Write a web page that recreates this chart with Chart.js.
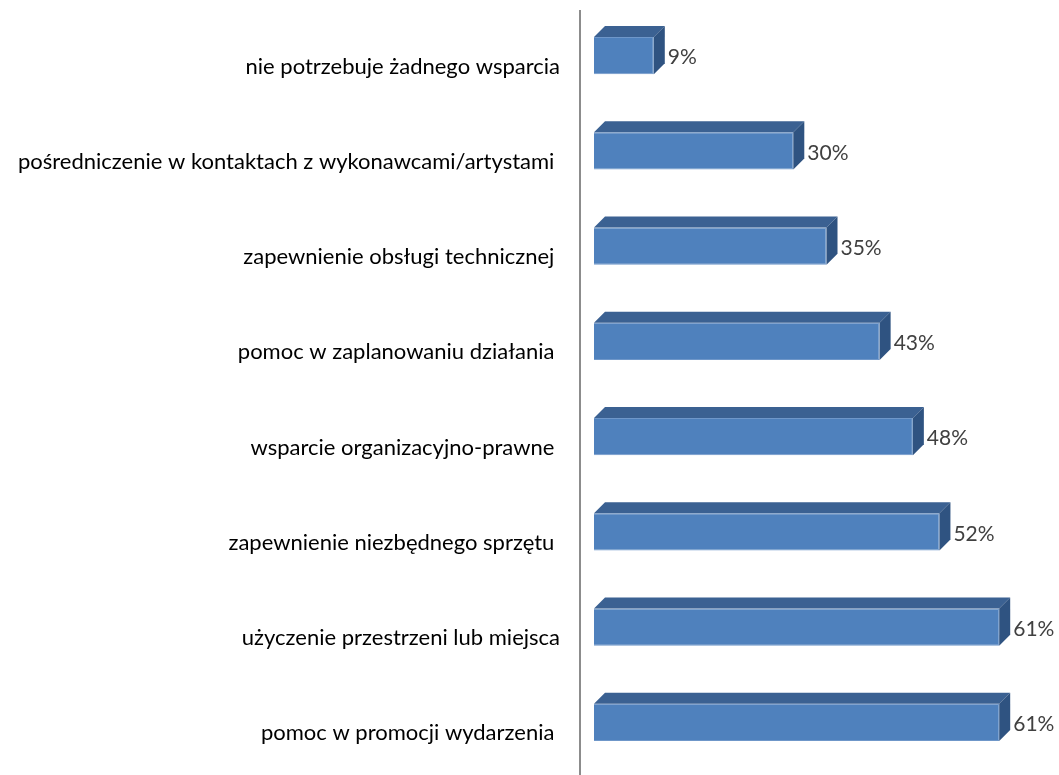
<!DOCTYPE html>
<html>
<head>
<meta charset="utf-8">
<script src="https://cdn.jsdelivr.net/npm/chart.js@4.4.0/dist/chart.umd.min.js"></script>
<style>
  html, body { margin: 0; padding: 0; background: #fff; }
  #wrap { width: 1059px; height: 775px; position: relative; }
</style>
</head>
<body>
<div id="wrap"><canvas id="chart"></canvas></div>
<script>
// data
const categories = [
  "nie potrzebuje żadnego wsparcia",
  "pośredniczenie w kontaktach z wykonawcami/artystami ",
  "zapewnienie obsługi technicznej ",
  "pomoc w zaplanowaniu działania ",
  "wsparcie organizacyjno-prawne ",
  "zapewnienie niezbędnego sprzętu ",
  "użyczenie przestrzeni lub miejsca",
  "pomoc w promocji wydarzenia "
];
const values = [9, 30, 35, 43, 48, 52, 61, 61];
const valueLabels = ["9%", "30%", "35%", "43%", "48%", "52%", "61%", "61%"];

const DEPTH = 11;

// 3D faces, axis line and value labels
const bar3d = {
  id: 'bar3d',
  afterDatasetsDraw(chart) {
    const ctx = chart.ctx;
    const meta = chart.getDatasetMeta(0);
    const area = chart.chartArea;

    ctx.save();
    ctx.strokeStyle = '#8c8c8c';
    ctx.lineWidth = 2;
    ctx.beginPath();
    ctx.moveTo(area.left - 14, 10);
    ctx.lineTo(area.left - 14, 775);
    ctx.stroke();

    meta.data.forEach((bar, i) => {
      const top = bar.y - bar.height / 2;
      const bottom = bar.y + bar.height / 2;
      const x = bar.x, base = bar.base, d = DEPTH;

      // top face
      ctx.fillStyle = '#3b6192';
      ctx.beginPath();
      ctx.moveTo(base, top);
      ctx.lineTo(base + d, top - d);
      ctx.lineTo(x + d, top - d);
      ctx.lineTo(x, top);
      ctx.closePath();
      ctx.fill();

      // side face
      ctx.fillStyle = '#2f5381';
      ctx.beginPath();
      ctx.moveTo(x, top);
      ctx.lineTo(x + d, top - d);
      ctx.lineTo(x + d, bottom - d);
      ctx.lineTo(x, bottom);
      ctx.closePath();
      ctx.fill();

      ctx.fillStyle = '#404040';
      ctx.font = '21px Lato, "Open Sans", sans-serif';
      ctx.textAlign = 'left';
      ctx.textBaseline = 'middle';
      ctx.fillText(valueLabels[i], x + d + 3, bar.y + 2);
    });
    ctx.restore();
  }
};

new Chart(document.getElementById('chart'), {
  type: 'bar',
  data: {
    labels: categories,
    datasets: [{
      data: values,
      backgroundColor: '#4f81bd',
      borderColor: '#6f97c9',
      borderWidth: 1,
      barPercentage: 0.39,
      categoryPercentage: 1
    }]
  },
  options: {
    indexAxis: 'y',
    responsive: true,
    maintainAspectRatio: false,
    animation: false,
    layout: { padding: { top: 8, bottom: 5, left: 0, right: 0 } },
    plugins: {
      legend: { display: false },
      tooltip: { enabled: false }
    },
    scales: {
      x: {
        display: false,
        min: 0,
        max: 70
      },
      y: {
        afterFit(scale) {
          scale.width = 594;
          scale.paddingTop = 0;
          scale.paddingBottom = 0;
        },
        grid: { display: false, drawTicks: false },
        border: { display: false },
        ticks: {
          padding: 34,
          labelOffset: 11,
          color: '#000',
          font: { family: 'Lato, "Open Sans", sans-serif', size: 22 }
        }
      }
    }
  },
  plugins: [bar3d]
});
</script>
</body>
</html>
